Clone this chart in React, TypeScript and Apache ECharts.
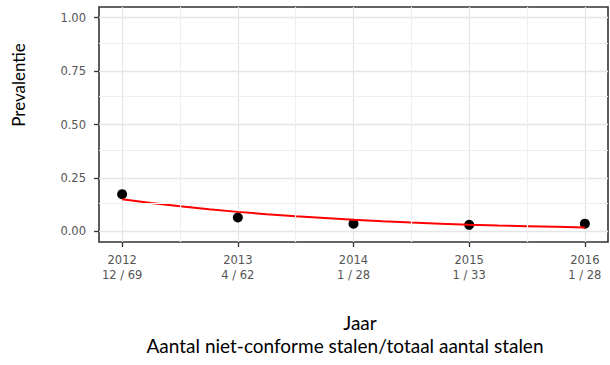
import React, { useEffect, useRef } from "react";
import * as echarts from "echarts";

// Observed prevalence per year (non-conforming / total samples)
const years = [2012, 2013, 2014, 2015, 2016];
const sampleLabels = ["12 / 69", "4 / 62", "1 / 28", "1 / 33", "1 / 28"];
const prevalence = [0.174, 0.0645, 0.0357, 0.0303, 0.0357];

// Fitted trend (red curve)
const fitYears = [2012, 2012.25, 2012.5, 2012.75, 2013, 2013.25, 2013.5, 2013.75, 2014, 2014.25, 2014.5, 2014.75, 2015, 2015.25, 2015.5, 2015.75, 2016];
const fitValues = [0.15, 0.133, 0.117, 0.103, 0.091, 0.08, 0.07, 0.062, 0.054, 0.047, 0.041, 0.036, 0.031, 0.027, 0.024, 0.021, 0.018];

// Axis ticks
const yTicks = [0, 0.25, 0.5, 0.75, 1];
const yMinorTicks = [0.125, 0.375, 0.625, 0.875];
const xMinorTicks = [2012.5, 2013.5, 2014.5, 2015.5];

export default function App() {
  const ref = useRef<HTMLDivElement>(null);
  useEffect(() => {
    if (!ref.current) return;
    const chart = echarts.init(ref.current, null, { renderer: "svg" });
    const tickFont = { fontFamily: "DejaVu Sans", fontSize: 11.5, color: "#555" };
    const major = { show: true, lineStyle: { color: "#e6e6e6", width: 1.3 } };
    chart.setOption({
      animation: false,
      backgroundColor: "#fff",
      grid: {
        left: 99, right: 2, top: 7, bottom: 123,
        show: true, borderColor: "#333", borderWidth: 1.6, backgroundColor: "#fff",
      },
      xAxis: {
        type: "value", min: 2011.8, max: 2016.2,
        axisLine: { show: false, onZero: false },
        axisTick: { show: true, customValues: years, length: 5, lineStyle: { color: "#333", width: 1.3 } },
        axisLabel: {
          customValues: years, margin: 10, ...tickFont, lineHeight: 15.5,
          formatter: (v: number) => {
            const i = years.indexOf(Math.round(v));
            return i >= 0 ? `${years[i]}\n${sampleLabels[i]}` : "";
          },
        },
        splitLine: major,
      },
      yAxis: {
        type: "value", min: -0.05, max: 1.05,
        axisLine: { show: false, onZero: false },
        axisTick: { show: true, customValues: yTicks, length: 5, lineStyle: { color: "#333", width: 1.3 } },
        axisLabel: { customValues: yTicks, margin: 13, ...tickFont, formatter: (v: number) => v.toFixed(2) },
        splitLine: major,
      },
      series: [
        {
          // minor grid lines
          type: "scatter", data: [], z: 1, silent: true,
          markLine: {
            silent: true, symbol: "none", animation: false,
            label: { show: false },
            lineStyle: { color: "#efefef", width: 1.1, type: "solid" },
            data: [
              ...xMinorTicks.map((v) => ({ xAxis: v })),
              ...yMinorTicks.map((v) => ({ yAxis: v })),
            ],
          },
        },
        {
          type: "scatter",
          data: years.map((y, i) => [y, prevalence[i]]),
          symbolSize: 10, itemStyle: { color: "#000", opacity: 1 }, z: 3,
        },
        {
          type: "line",
          data: fitYears.map((y, i) => [y, fitValues[i]]),
          showSymbol: false, symbol: "none",
          lineStyle: { color: "#ff0000", width: 2 }, z: 4,
        },
      ],
      graphic: [
        {
          type: "text", x: 18, y: 85, rotation: Math.PI / 2,
          style: { text: "Prevalentie", font: '17px Lato', fill: "#000", align: "center", verticalAlign: "middle" },
        },
        {
          type: "text", x: 360, y: 322,
          style: { text: "Jaar", font: '19px Lato', fill: "#000", align: "center", verticalAlign: "middle" },
        },
        {
          type: "text", x: 345, y: 345,
          style: { text: "Aantal niet-conforme stalen/totaal aantal stalen", font: '19px Lato', fill: "#000", align: "center", verticalAlign: "middle" },
        },
      ],
    });
    return () => chart.dispose();
  }, []);
  return <div ref={ref} style={{ width: 610, height: 365, position: "absolute", left: 0, top: 0 }} />;
}
